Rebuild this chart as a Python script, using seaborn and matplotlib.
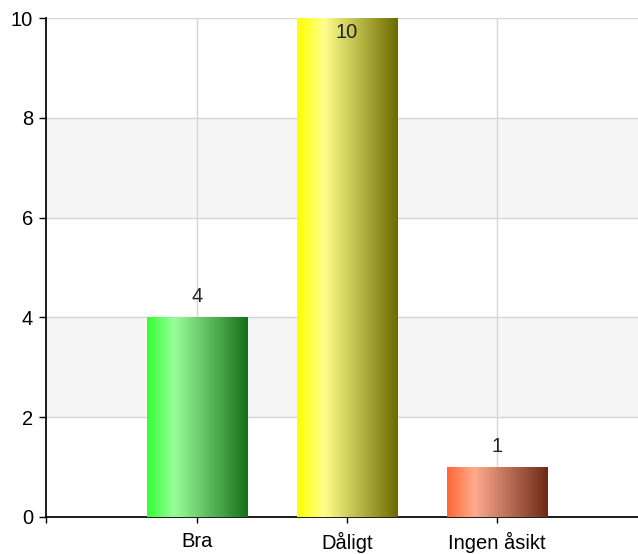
import numpy as np
import pandas as pd
import seaborn as sns
import matplotlib.pyplot as plt
from matplotlib.colors import LinearSegmentedColormap

# data
categories = ["Bra", "Dåligt", "Ingen åsikt"]
counts = [4, 10, 1]
# gradient stops per bar: left, light, dark right
bar_grads = [["#33ff33", "#99ff99", "#177017"],
             ["#ffff00", "#ffff8c", "#6b6b00"],
             ["#ff6633", "#ffab8e", "#6b2a18"]]

df = pd.DataFrame({"cat": categories, "n": counts})

sns.set_theme(style="white")
plt.rcParams['font.family'] = ['Liberation Sans', 'DejaVu Sans']

fig = plt.figure(figsize=(6.38, 5.54), dpi=100)
ax = fig.add_axes([46 / 638, 37 / 554, 592 / 638, 499 / 554])

sns.barplot(data=df, x="cat", y="n", ax=ax, width=0.667, color="white",
            edgecolor="#888888", linewidth=0.6, zorder=3)

XLIM = (-1.007, 2.94)

# alternating bands
for lo in (2, 6):
    ax.axhspan(lo, lo + 2, color="#f5f5f5", zorder=0)
ax.set_yticks([0, 2, 4, 6, 8, 10])
ax.grid(True, which="major", color="#d6d6d6", linewidth=1, zorder=1)
ax.set_axisbelow(True)

# gradient fill inside each bar
for p, stops in zip(ax.patches, bar_grads):
    x0, y0 = p.get_x(), p.get_y()
    w, h = p.get_width(), p.get_height()
    cmap = LinearSegmentedColormap.from_list("g", [(0, stops[0]), (0.27, stops[1]), (1, stops[2])])
    grad = np.linspace(0, 1, 256).reshape(1, -1)
    im = ax.imshow(grad, cmap=cmap, aspect="auto", extent=[x0, x0 + w, y0, y0 + h],
                   zorder=3.5, interpolation="bilinear")
    im.set_clip_path(p)

ax.set_xlim(*XLIM)
ax.set_ylim(0, 10)

# value labels
for i, v in enumerate(counts):
    off = -14.4 if v >= 10 else 10.8
    ax.annotate(str(v), (i, v), xytext=(0, off), textcoords="offset points",
                ha="center", va="baseline", fontsize=14.5, color="#222222", zorder=5)

for s in ["top", "right"]:
    ax.spines[s].set_visible(False)
ax.spines["left"].set_color("black")
ax.spines["bottom"].set_color("black")
ax.tick_params(axis="both", direction="out", width=1, color="black",
               labelsize=14.5, labelcolor="black", left=True, bottom=True)
ax.tick_params(axis="y", length=5, pad=4.3)
ax.tick_params(axis="x", length=4.5, pad=6.5)
# tick at left end of the category axis
ax.set_xticks([XLIM[0]], minor=True)
ax.tick_params(axis="x", which="minor", bottom=True, length=4.5, width=1, color="black")
ax.set_xlabel("")
ax.set_ylabel("")

fig.savefig("out.png", dpi=100)
